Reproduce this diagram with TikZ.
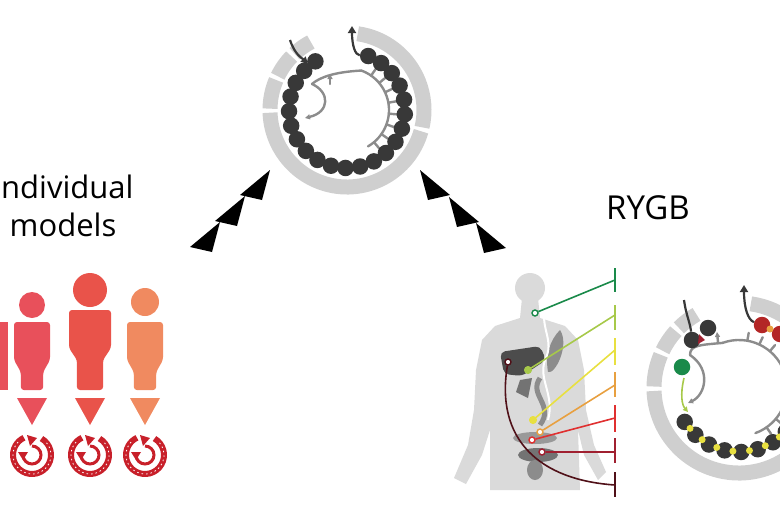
\documentclass[tikz,border=0pt]{standalone}
\usepackage{fontspec}
\setmainfont{Open Sans}
\usetikzlibrary{arrows.meta,calc}
\definecolor{ring}{HTML}{CFCFCF}
\definecolor{bead}{HTML}{383838}
\definecolor{branch}{HTML}{8C8C8C}
\definecolor{body}{HTML}{DADADA}
\definecolor{pA}{HTML}{E8505B}
\definecolor{pB}{HTML}{E9534A}
\definecolor{pC}{HTML}{F08A60}
\definecolor{cyc}{HTML}{C8202A}
\definecolor{lG}{HTML}{1A8A4A}
\definecolor{lYG}{HTML}{A7C94A}
\definecolor{lY}{HTML}{E8E040}
\definecolor{lO}{HTML}{E8A040}
\definecolor{lR}{HTML}{E03030}
\definecolor{lDR}{HTML}{A02030}
\definecolor{lM}{HTML}{501018}
\tikzset{
 ringseg/.style={draw=ring,line width=15pt},
 beadn/.style={circle,fill=bead,inner sep=0pt,minimum size=16.5pt},
 br/.style={draw=branch,line width=2.4pt,line cap=round},
 bigtri/.style={fill=black},
 lbl/.style={font=\fontsize{31}{38}\selectfont,align=center},
 tbar/.style={line width=2pt},
 lnk/.style={line width=1.6pt},
 dotn/.style={circle,draw,fill=white,line width=1.4pt,inner sep=0pt,minimum size=6pt},
}
\newcommand{\drawperson}[6]{%
  \fill[#6] (#1,#2) circle (#3);
  \fill[#6,rounded corners=3pt] (#1-#5,#4) -- (#1+#5,#4) -- (#1+#5,#4+38) -- (#1+0.62*#5,#4+50) -- (#1+0.62*#5,390) -- (#1-0.62*#5,390) -- (#1-0.62*#5,#4+50) -- (#1-#5,#4+38) -- cycle;
  \fill[#6] (#1-15,398) -- (#1+15,398) -- (#1,425) -- cycle;
  \draw[cyc,line width=6pt] (#1,455) ++(-60:19) arc[start angle=-60,end angle=245,radius=19];
  \draw[white,line width=0.8pt,dash pattern=on 1.5pt off 3pt] (#1,455) ++(-40:19) arc[start angle=-40,end angle=230,radius=19];
  \draw[cyc,line width=3pt] (#1,455) ++(-90:9) arc[start angle=-90,end angle=180,radius=9];
  \fill[cyc] (#1-5,435) -- (#1+5,438) -- (#1-2,446) -- cycle;
  \fill[cyc] (#1-14,452) -- (#1-4,452) -- (#1-9,460) -- cycle;
}
\begin{document}
\begin{tikzpicture}[x=1pt,y=-1pt]
\useasboundingbox (0,0) rectangle (780,520);
\clip (0,0) rectangle (780,520);
% ---------- top cycle ----------
\coordinate (tc) at (347,110);
\foreach \a/\b in {-82/13,16/178,181/203,206/224,227/242}
  \draw[ringseg] (tc) ++(\a:77) arc[start angle=\a,end angle=\b,radius=77];
\draw[br] (tc) ++(-70:42) arc[start angle=-70,end angle=60,radius=42];
\foreach \a in {-55,-40,-25,-10,5,20,35,50}
  \draw[br] (tc) ++(\a:42) -- ++(\a:8);
\draw[br] (tc) ++(-70:42) .. controls (335,72) and (320,77) .. (312,84);
\draw[br,-{Triangle[length=5pt,width=5pt]}] (312,84) .. controls (330,92) and (330,112) .. (305,118);
\draw[br,-{Triangle[length=5pt,width=5pt]}] (330,84) -- (330,74);
\foreach \i in {0,...,21}
  \node[beadn] (tb\i) at ($(tc)+({237-\i*14.55}:58)$) {};
\draw[bead,line width=2.2pt,-{Triangle[length=7pt,width=7pt]}] (290,40) .. controls (295,55) and (302,58) .. (308,64);
\draw[bead,line width=2.2pt,-{Triangle[length=7pt,width=8pt]}] (tb21) .. controls (355,55) and (352,45) .. (352,26);
% ---------- big arrows ----------
\foreach \x/\y in {256/184,231/210,206/236}
  \fill[bigtri] (\x+14,\y-14) -- (\x+6,\y+16) -- (\x-16,\y+11) -- cycle;
\foreach \x/\y in {434/184,463/211,490/237}
  \fill[bigtri] (\x-14,\y-14) -- (\x-6,\y+16) -- (\x+16,\y+11) -- cycle;
% ---------- labels ----------
\node[lbl] (indiv) at (63,206) {Individual\\models};
\node[font=\fontsize{33}{38}\selectfont] (rygb) at (648,208) {RYGB};
% ---------- people ----------
\fill[pA] (-20,322) rectangle (8,390);
\drawperson{32}{305}{13}{322}{18}{pA}
\drawperson{90}{290}{17}{310}{21}{pB}
\drawperson{145}{302}{14}{322}{18}{pC}
% ---------- body ----------
\fill[body] (530,288) circle (15);
\fill[body] (522,298) -- (538,298) -- (540,318) -- (565,326) -- (578,340) -- (584,370) -- (586,410) -- (594,445) -- (606,472) -- (598,480) -- (584,455) -- (578,430) -- (580,490) -- (490,490) -- (490,430) -- (482,455) -- (466,484) -- (454,478) -- (468,445) -- (474,410) -- (476,370) -- (482,340) -- (495,326) -- (520,318) -- cycle;
\fill[black!70,rounded corners=5pt] (500,352) -- (540,346) -- (546,360) -- (522,376) -- (504,374) -- cycle;
\fill[black!45] (560,330) .. controls (570,345) and (555,375) .. (548,372) .. controls (545,355) and (550,340) .. (560,330);
\draw[black!45,line width=5pt] (540,378) .. controls (528,395) and (555,405) .. (540,425);
\fill[black!55] (520,380) -- (532,378) -- (528,398) -- (516,392) -- cycle;
\fill[black!40] (535,438) ellipse (22 and 6);
\fill[black!55] (538,455) ellipse (20 and 7);
\fill[black!45] (535,470) ellipse (8 and 10);
\draw[white,line width=2pt] (545,305) .. controls (540,330) and (555,340) .. (545,360) .. controls (538,380) and (555,395) .. (548,420);
% ---------- T bars and links ----------
\foreach \c/\ya/\yb/\px/\py/\ty [count=\k] in {lG/268/292/535/313/280, lYG/305/330/528/370/315, lY/338/365/533/420/350, lO/372/397/540/432/385, lR/405/432/532/440/418, lDR/438/463/542/452/452}{
  \draw[\c,tbar] (615,\ya) -- (615,\yb);
  \coordinate (e\k) at (615,\ty);
  \node[dotn,draw=\c] (o\k) at (\px,\py) {};
  \draw[\c,lnk] (o\k) -- (e\k);
}
\fill[lY] (533,420) circle (4);
\fill[lYG] (528,370) circle (4);
\draw[lM,tbar] (615,472) -- (615,497);
\coordinate (e7) at (615,485);
\node[dotn,draw=lM] (o7) at (508,362) {};
\draw[lM,lnk] (o7) .. controls (495,440) and (540,480) .. (e7);
% ---------- right cycle ----------
\coordinate (rc) at (739,388);
\foreach \a/\b in {-82/13,16/178,181/203,206/222,225/240}
  \draw[ringseg] (rc) ++(\a:85) arc[start angle=\a,end angle=\b,radius=85];
\draw[br] (rc) ++(-110:48) arc[start angle=-110,end angle=70,radius=48];
\foreach \a in {-80,-65,-50,40,55}
  \draw[br] (rc) ++(\a:48) -- ++(\a:8);
\draw[br] (rc) ++(-110:48) .. controls (700,345) and (690,345) .. (690,355);
\draw[br,-{Triangle[length=5pt,width=5pt]}] (690,355) .. controls (712,370) and (705,395) .. (688,403);
\draw[br,-{Triangle[length=5pt,width=5pt]}] (718,342) -- (717,332);
\draw[lYG,line width=1.6pt,-{Triangle[length=5pt,width=5pt]}] (684,378) .. controls (680,395) and (682,405) .. (688,412);
\node[beadn] (r1) at (692,340) {};
\node[beadn] (r2) at (708,328) {};
\node[beadn,fill=lG] (r3) at (682,367) {};
\fill[lDR] (699,334) -- (705,340) -- (698,344) -- cycle;
\foreach \i/\a in {1/148,2/133,3/118,4/103,5/88,6/73,7/58,8/43}
  \node[beadn] (rb\i) at ($(rc)+(\a:64)$) {};
\foreach \i in {1,...,7}{
  \pgfmathtruncatemacro{\j}{\i+1}
  \fill[lY] ($(rb\i)!0.5!(rb\j)$) circle (3.5);
}
\node[beadn,fill=lR!80!black] (rr1) at (762,325) {};
\node[beadn,fill=lR!80!black] (rr2) at (780,334) {};
\fill[lO] (770,329) circle (3.5);
\draw[bead,line width=2.2pt] (684,300) .. controls (686,315) and (690,322) .. (r1);
\draw[bead,line width=2.2pt,-{Triangle[length=7pt,width=8pt]}] (rr1) .. controls (748,320) and (744,308) .. (744,285);
\end{tikzpicture}
\end{document}
